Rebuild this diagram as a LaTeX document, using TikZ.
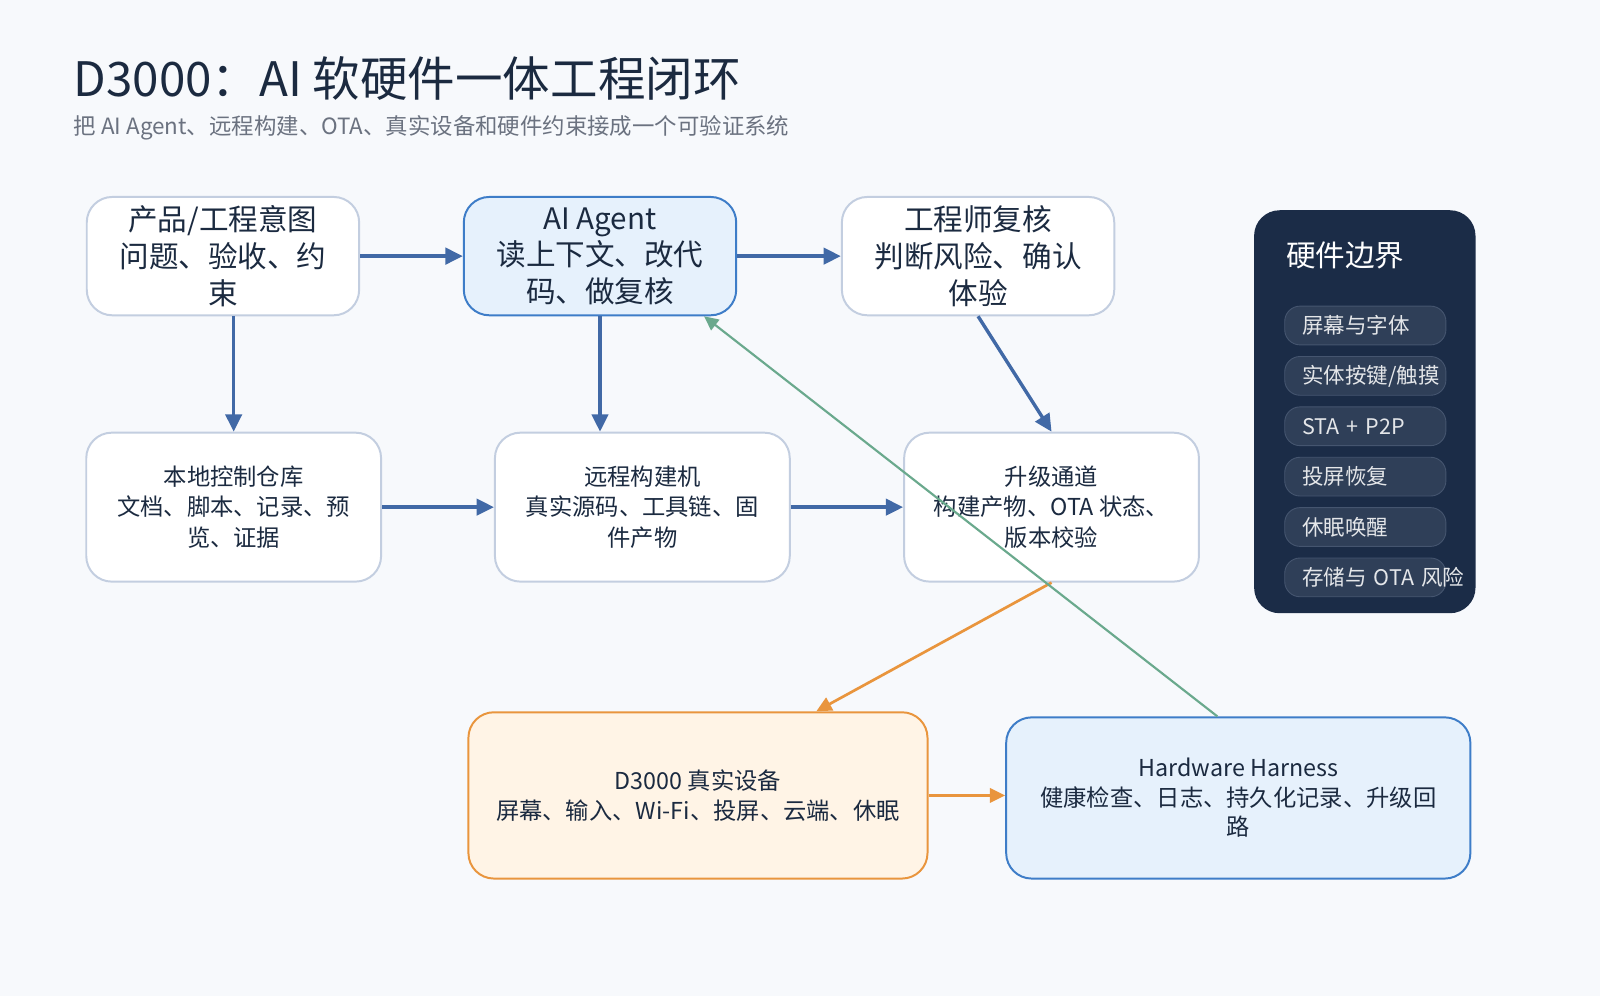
\documentclass[tikz,border=0pt]{standalone}
\usepackage{fontspec}
\setmainfont{Noto Sans CJK SC}
\usepackage{xcolor}
\usepackage{tikz}
\usetikzlibrary{arrows.meta, positioning}
\definecolor{PageBg}{HTML}{F7F9FC}
\definecolor{InkDark}{HTML}{1B2A40}
\definecolor{InkGray}{HTML}{6B7280}
\definecolor{EdgeGray}{HTML}{C3CEE0}
\definecolor{FlowBlue}{HTML}{4169A6}
\definecolor{AgentBlue}{HTML}{3E7DC8}
\definecolor{AgentFill}{HTML}{E6F1FC}
\definecolor{DevOrange}{HTML}{E9953D}
\definecolor{DevFill}{HTML}{FFF4E6}
\definecolor{LoopGreen}{HTML}{6AA98D}
\definecolor{PanelNavy}{HTML}{1B2C47}
\definecolor{PillFill}{HTML}{2F3F58}
\definecolor{PillEdge}{HTML}{45556F}
\tikzset{
    stagebox/.style={rectangle, rounded corners=0.5cm, minimum width=5.34cm, minimum height=2.32cm,
        align=center, draw=EdgeGray, line width=1.1pt, fill=white, text=InkDark,
        font=\fontsize{16.5}{20.5}\selectfont},
    workbox/.style={rectangle, rounded corners=0.5cm, minimum width=5.78cm, minimum height=2.92cm,
        align=center, draw=EdgeGray, line width=1.1pt, fill=white, text=InkDark,
        font=\fontsize{13}{17}\selectfont},
    agentbox/.style={draw=AgentBlue, fill=AgentFill},
    devbox/.style={rectangle, rounded corners=0.5cm, minimum width=9cm, minimum height=3.26cm,
        align=center, draw=DevOrange, fill=DevFill, line width=1.1pt, text=InkDark,
        font=\fontsize{13}{16.5}\selectfont},
    harnessbox/.style={devbox, minimum width=9.1cm, minimum height=3.16cm, draw=AgentBlue, fill=AgentFill},
    panelbox/.style={rectangle, rounded corners=0.5cm, minimum width=4.34cm, minimum height=7.9cm,
        fill=PanelNavy},
    pillbox/.style={rectangle, rounded corners=0.3cm, minimum height=0.76cm, inner xsep=0.34cm,
        text width=2.48cm, align=left, draw=PillEdge, line width=0.5pt, fill=PillFill,
        text=white!88!PanelNavy, font=\fontsize{12}{14}\selectfont},
    flowarrow/.style={-{Triangle[length=3.4mm, width=3.2mm]}, line width=1.9pt, FlowBlue},
    otaarrow/.style={-{Triangle[length=3mm, width=2.8mm]}, line width=1.5pt, DevOrange},
    looparrow/.style={-{Triangle[length=2.8mm, width=2.6mm]}, line width=1.2pt, LoopGreen},
}
\begin{document}
\begin{tikzpicture}[x=0.02cm, y=-0.02cm]
    \fill[PageBg] (0,0) rectangle (1568,976);
    \useasboundingbox (0,0) rectangle (1568,976);

    % Heading
    \node[anchor=west, inner sep=0pt, text=InkDark, font=\fontsize{26.5}{30}\selectfont] (title) at (72,77)
        {D3000：AI 软硬件一体工程闭环};
    \node[anchor=west, inner sep=0pt, text=InkGray, font=\fontsize{12.5}{15}\selectfont] (subtitle) at (72,125)
        {把 AI Agent、远程构建、OTA、真实设备和硬件约束接成一个可验证系统};

    % Upper row
    \node[stagebox] (intent) at (218.5,251) {产品/工程意图\\问题、验收、约\\束};
    \node[stagebox, agentbox] (agent) at (588,251) {AI Agent\\读上下文、改代\\码、做复核};
    \node[stagebox] (review) at (958.5,251) {工程师复核\\判断风险、确认\\体验};

    % Middle row
    \node[workbox] (repo) at (229,497) {本地控制仓库\\文档、脚本、记录、预\\览、证据};
    \node[workbox] (builder) at (629.5,497) {远程构建机\\真实源码、工具链、固\\件产物};
    \node[workbox] (ota) at (1030.5,497) {升级通道\\构建产物、OTA 状态、\\版本校验};

    % Device and harness
    \node[devbox] (device) at (684,779.5) {D3000 真实设备\\屏幕、输入、Wi-Fi、投屏、云端、休眠};
    \node[harnessbox] (harness) at (1213.5,782) {Hardware Harness\\健康检查、日志、持久化记录、升级回\\路};

    % Hardware boundary panel using positioning
    \node[panelbox] (panel) at (1337.5,403.5) {};
    \node[anchor=west, inner sep=0pt, text=white, font=\fontsize{16.5}{20}\selectfont] (paneltitle) at (1260,250) {硬件边界};
    \node[pillbox] (pill1) at (1338,319) {屏幕与字体};
    \node[pillbox, below=0.21cm of pill1] (pill2) {实体按键/触摸};
    \node[pillbox, below=0.21cm of pill2] (pill3) {STA + P2P};
    \node[pillbox, below=0.21cm of pill3] (pill4) {投屏恢复};
    \node[pillbox, below=0.21cm of pill4] (pill5) {休眠唤醒};
    \node[pillbox, below=0.21cm of pill5] (pill6) {存储与~OTA~风险};

    % Flow
    \draw[flowarrow] (intent) -- (agent);
    \draw[flowarrow] (agent) -- (review);
    \draw[flowarrow] (intent.south -| repo.north) -- (repo.north);
    \draw[flowarrow] (agent.south) -- (agent.south |- builder.north);
    \draw[flowarrow] (review.south) -- (ota.north);
    \draw[flowarrow] (repo) -- (builder);
    \draw[flowarrow] (builder) -- (ota);
    \draw[otaarrow] (ota.south) -- ([xshift=2.32cm]device.north);
    \draw[otaarrow] (device.east) -- (device.east -| harness.west);
    \draw[looparrow] ([xshift=-0.41cm]harness.north) -- ([xshift=2.04cm]agent.south);
\end{tikzpicture}
\end{document}
